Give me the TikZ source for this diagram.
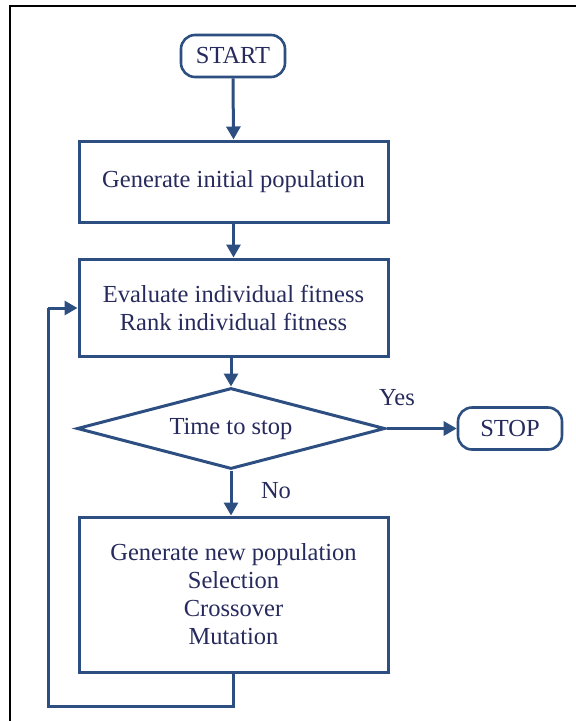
\documentclass[tikz,border=0pt]{standalone}
\usepackage{fontspec}
\setmainfont{Liberation Serif}
\newfontfamily\flowfont{Liberation Serif}
\usetikzlibrary{arrows.meta,shapes.geometric}
\definecolor{flowline}{RGB}{44,78,128}
\definecolor{flowtext}{RGB}{38,42,92}
\begin{document}
\begin{tikzpicture}[x=1pt,y=-1pt,
  every node/.style={text=flowtext,font=\flowfont\fontsize{24.5}{28}\selectfont},
  procbox/.style={draw=flowline,line width=3pt,rectangle,minimum width=309pt,inner sep=0pt,align=center},
  termbox/.style={draw=flowline,line width=2.6pt,rectangle,rounded corners=14pt,minimum width=104pt,minimum height=42pt,inner sep=0pt},
  decbox/.style={draw=flowline,line width=3pt,diamond,aspect=3.8,minimum width=308pt,minimum height=81pt,inner sep=0pt},
  flow/.style={draw=flowline,line width=3pt,-{Triangle[width=14pt,length=13pt]}},
  plain/.style={draw=flowline,line width=3pt}]
\useasboundingbox (0,0) rectangle (576,721);
\draw[line width=2pt,black] (9.5,721) -- (9.5,6) -- (576,6);

\node[termbox] (start) at (233,56) {START};
\node[procbox,minimum height=81pt] (init) at (233.5,181.5) {Generate initial population};
\node[procbox,minimum height=97pt] (eval) at (233.5,307.5) {Evaluate individual fitness\\Rank individual fitness};
\node[decbox] (dec) at (231,428.5) {Time to stop};
\node[termbox] (stop) at (510,428.5) {STOP};
\node[procbox,minimum height=155pt] (gen) at (233.5,594.5) {Generate new population\\Selection\\Crossover\\Mutation};
\node (yes) at (397,398) {Yes};
\node (no) at (276,491) {No};
\coordinate (lb) at (48,706);
\coordinate (lt) at (48,308);

\draw[flow] (start.south) -- (init.north);
\draw[flow] (init.south) -- (eval.north);
\draw[flow] (eval.south -| dec.north) -- (dec.north);
\draw[flow] (dec.east) -- (stop.west);
\draw[flow] (dec.south) -- (gen.north -| dec.south);
\draw[plain,line join=miter] (gen.south -| start.south) |- (lb) -- (lt);
\draw[flow] (lt) -- (lt -| eval.west);
\end{tikzpicture}
\end{document}
